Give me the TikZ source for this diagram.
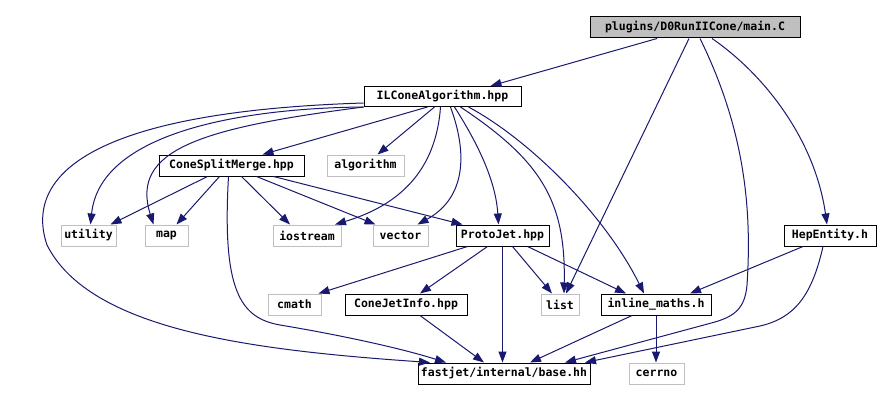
\documentclass[tikz,border=0pt]{standalone}
\usepackage{fontspec}
\setmonofont{DejaVu Sans Mono}
\usetikzlibrary{arrows.meta}
\definecolor{edgeblue}{HTML}{191970}
\definecolor{boxgrey}{HTML}{BFBFBF}
\begin{document}
\begin{tikzpicture}[x=1pt, y=-1pt,
    every node/.style={font=\ttfamily\bfseries\fontsize{11.5}{12}\selectfont, inner sep=0pt, minimum height=21pt},
    filebox/.style={draw=black, line width=1pt},
    sysbox/.style={draw=boxgrey, line width=1pt},
    dep/.style={draw=edgeblue, line width=1pt, -{Triangle[length=11pt,width=8pt]}}]
    \useasboundingbox (0,0) rectangle (880,401);
    \fill[white] (0,0) rectangle (880,401);

    % files
    \node[filebox, fill=boxgrey, minimum width=210pt] (mainc) at (695,27.5) {plugins/D0RunIICone/main.C};
    \node[filebox, minimum width=157pt, minimum height=20pt] (ilcone) at (442.5,96.5) {ILConeAlgorithm.hpp};
    \node[filebox, minimum width=145pt] (csm) at (231.5,165.5) {ConeSplitMerge.hpp};
    \node[sysbox, minimum width=77pt] (algo) at (365.5,165.5) {algorithm};
    \node[sysbox, minimum width=55pt] (utility) at (88.5,235.5) {utility};
    \node[sysbox, minimum width=43pt] (map) at (166.5,235.5) {map};
    \node[sysbox, minimum width=68pt] (iostream) at (307,235.5) {iostream};
    \node[sysbox, minimum width=55pt] (vector) at (400.5,235.5) {vector};
    \node[filebox, minimum width=93pt] (protojet) at (502.5,235.5) {ProtoJet.hpp};
    \node[filebox, minimum width=92pt] (hepentity) at (830,235.5) {HepEntity.h};
    \node[sysbox, minimum width=53pt] (cmath) at (294.5,304.5) {cmath};
    \node[filebox, minimum width=122pt] (conejetinfo) at (406,304.5) {ConeJetInfo.hpp};
    \node[sysbox, minimum width=38pt] (list) at (560,304.5) {list};
    \node[filebox, minimum width=110pt] (inlinemaths) at (656,304.5) {inline\_maths.h};
    \node[filebox, minimum width=172pt] (base) at (504,373.5) {fastjet/internal/base.hh};
    \node[sysbox, minimum width=55pt] (cerrno) at (656.5,373.5) {cerrno};

    % main.C
    \draw[dep] ([xshift=-38pt]mainc.south) -- ([xshift=48pt]ilcone.north);
    \draw[dep] ([xshift=-6pt]mainc.south) -- ([xshift=6pt]list.north);
    \draw[dep] ([xshift=5pt]mainc.south) .. controls (745,130) and (752,210) .. (747,285)
        .. controls (745,308) and (735,316) .. (715,322) -- ([xshift=61pt]base.north);
    \draw[dep] ([xshift=17pt]mainc.south) .. controls (765,75) and (815,140) .. ([xshift=-3pt]hepentity.north);

    % ILConeAlgorithm.hpp
    \draw[dep] ([xshift=-15pt]ilcone.south) -- ([xshift=31pt]csm.north);
    \draw[dep] ([xshift=-8pt]ilcone.south) -- ([xshift=12pt]algo.north);
    \draw[dep] (ilcone.south west) .. controls (250,108) and (100,130) .. ([xshift=2pt]utility.north);
    \draw[dep] (ilcone.south west) .. controls (200,128) and (130,150) .. ([xshift=-13pt]map.north);
    \draw[dep] ([xshift=-2pt]ilcone.south) .. controls (436,170) and (400,205) .. ([xshift=28pt]iostream.north);
    \draw[dep] ([xshift=8pt]ilcone.south) .. controls (470,160) and (462,200) .. ([xshift=17pt]vector.north);
    \draw[dep] ([xshift=12pt]ilcone.south) .. controls (482,150) and (496,185) .. ([xshift=-4pt]protojet.north);
    \draw[dep] ([xshift=18pt]ilcone.south) .. controls (540,160) and (566,200) .. ([xshift=4pt]list.north);
    \draw[dep] ([xshift=26pt]ilcone.south) .. controls (530,140) and (605,215) .. ([xshift=-12pt]inlinemaths.north);
    \draw[dep] ([yshift=4pt]ilcone.south west) .. controls (80,112) and (25,180) .. (47,245)
        .. controls (90,330) and (250,350) .. ([xshift=-74pt]base.north);

    % ConeSplitMerge.hpp
    \draw[dep] ([xshift=-24pt]csm.south) -- ([xshift=22pt]utility.north);
    \draw[dep] ([xshift=-12pt]csm.south) -- ([xshift=10pt]map.north);
    \draw[dep] ([xshift=10pt]csm.south) -- ([xshift=-17pt]iostream.north);
    \draw[dep] ([xshift=25pt]csm.south) -- ([xshift=-25pt]vector.north);
    \draw[dep] ([xshift=42pt]csm.south) -- ([xshift=-40pt]protojet.north);
    \draw[dep] ([xshift=-3pt]csm.south) .. controls (222,290) and (240,318) .. (280,325)
        .. controls (340,335) and (400,348) .. ([xshift=-58pt]base.north);

    % ProtoJet.hpp
    \draw[dep] ([xshift=-35pt]protojet.south) -- ([xshift=24pt]cmath.north);
    \draw[dep] ([xshift=-15pt]protojet.south) -- ([xshift=14pt]conejetinfo.north);
    \draw[dep] (protojet.south) -- (protojet.south |- base.north);
    \draw[dep] ([xshift=10pt]protojet.south) -- ([xshift=-8pt]list.north);
    \draw[dep] ([xshift=25pt]protojet.south) -- ([xshift=-30pt]inlinemaths.north);

    % HepEntity.h
    \draw[dep] ([xshift=-27pt]hepentity.south) -- ([xshift=34pt]inlinemaths.north);
    \draw[dep] ([xshift=-7pt]hepentity.south) .. controls (812,295) and (795,318) .. (760,326)
        -- ([xshift=81pt]base.north);

    \draw[dep] ([xshift=14pt]conejetinfo.south) -- ([xshift=-20pt]base.north);
    \draw[dep] ([xshift=-24pt]inlinemaths.south) -- ([xshift=26pt]base.north);
    \draw[dep] (inlinemaths.south) -- (inlinemaths.south |- cerrno.north);
\end{tikzpicture}
\end{document}
